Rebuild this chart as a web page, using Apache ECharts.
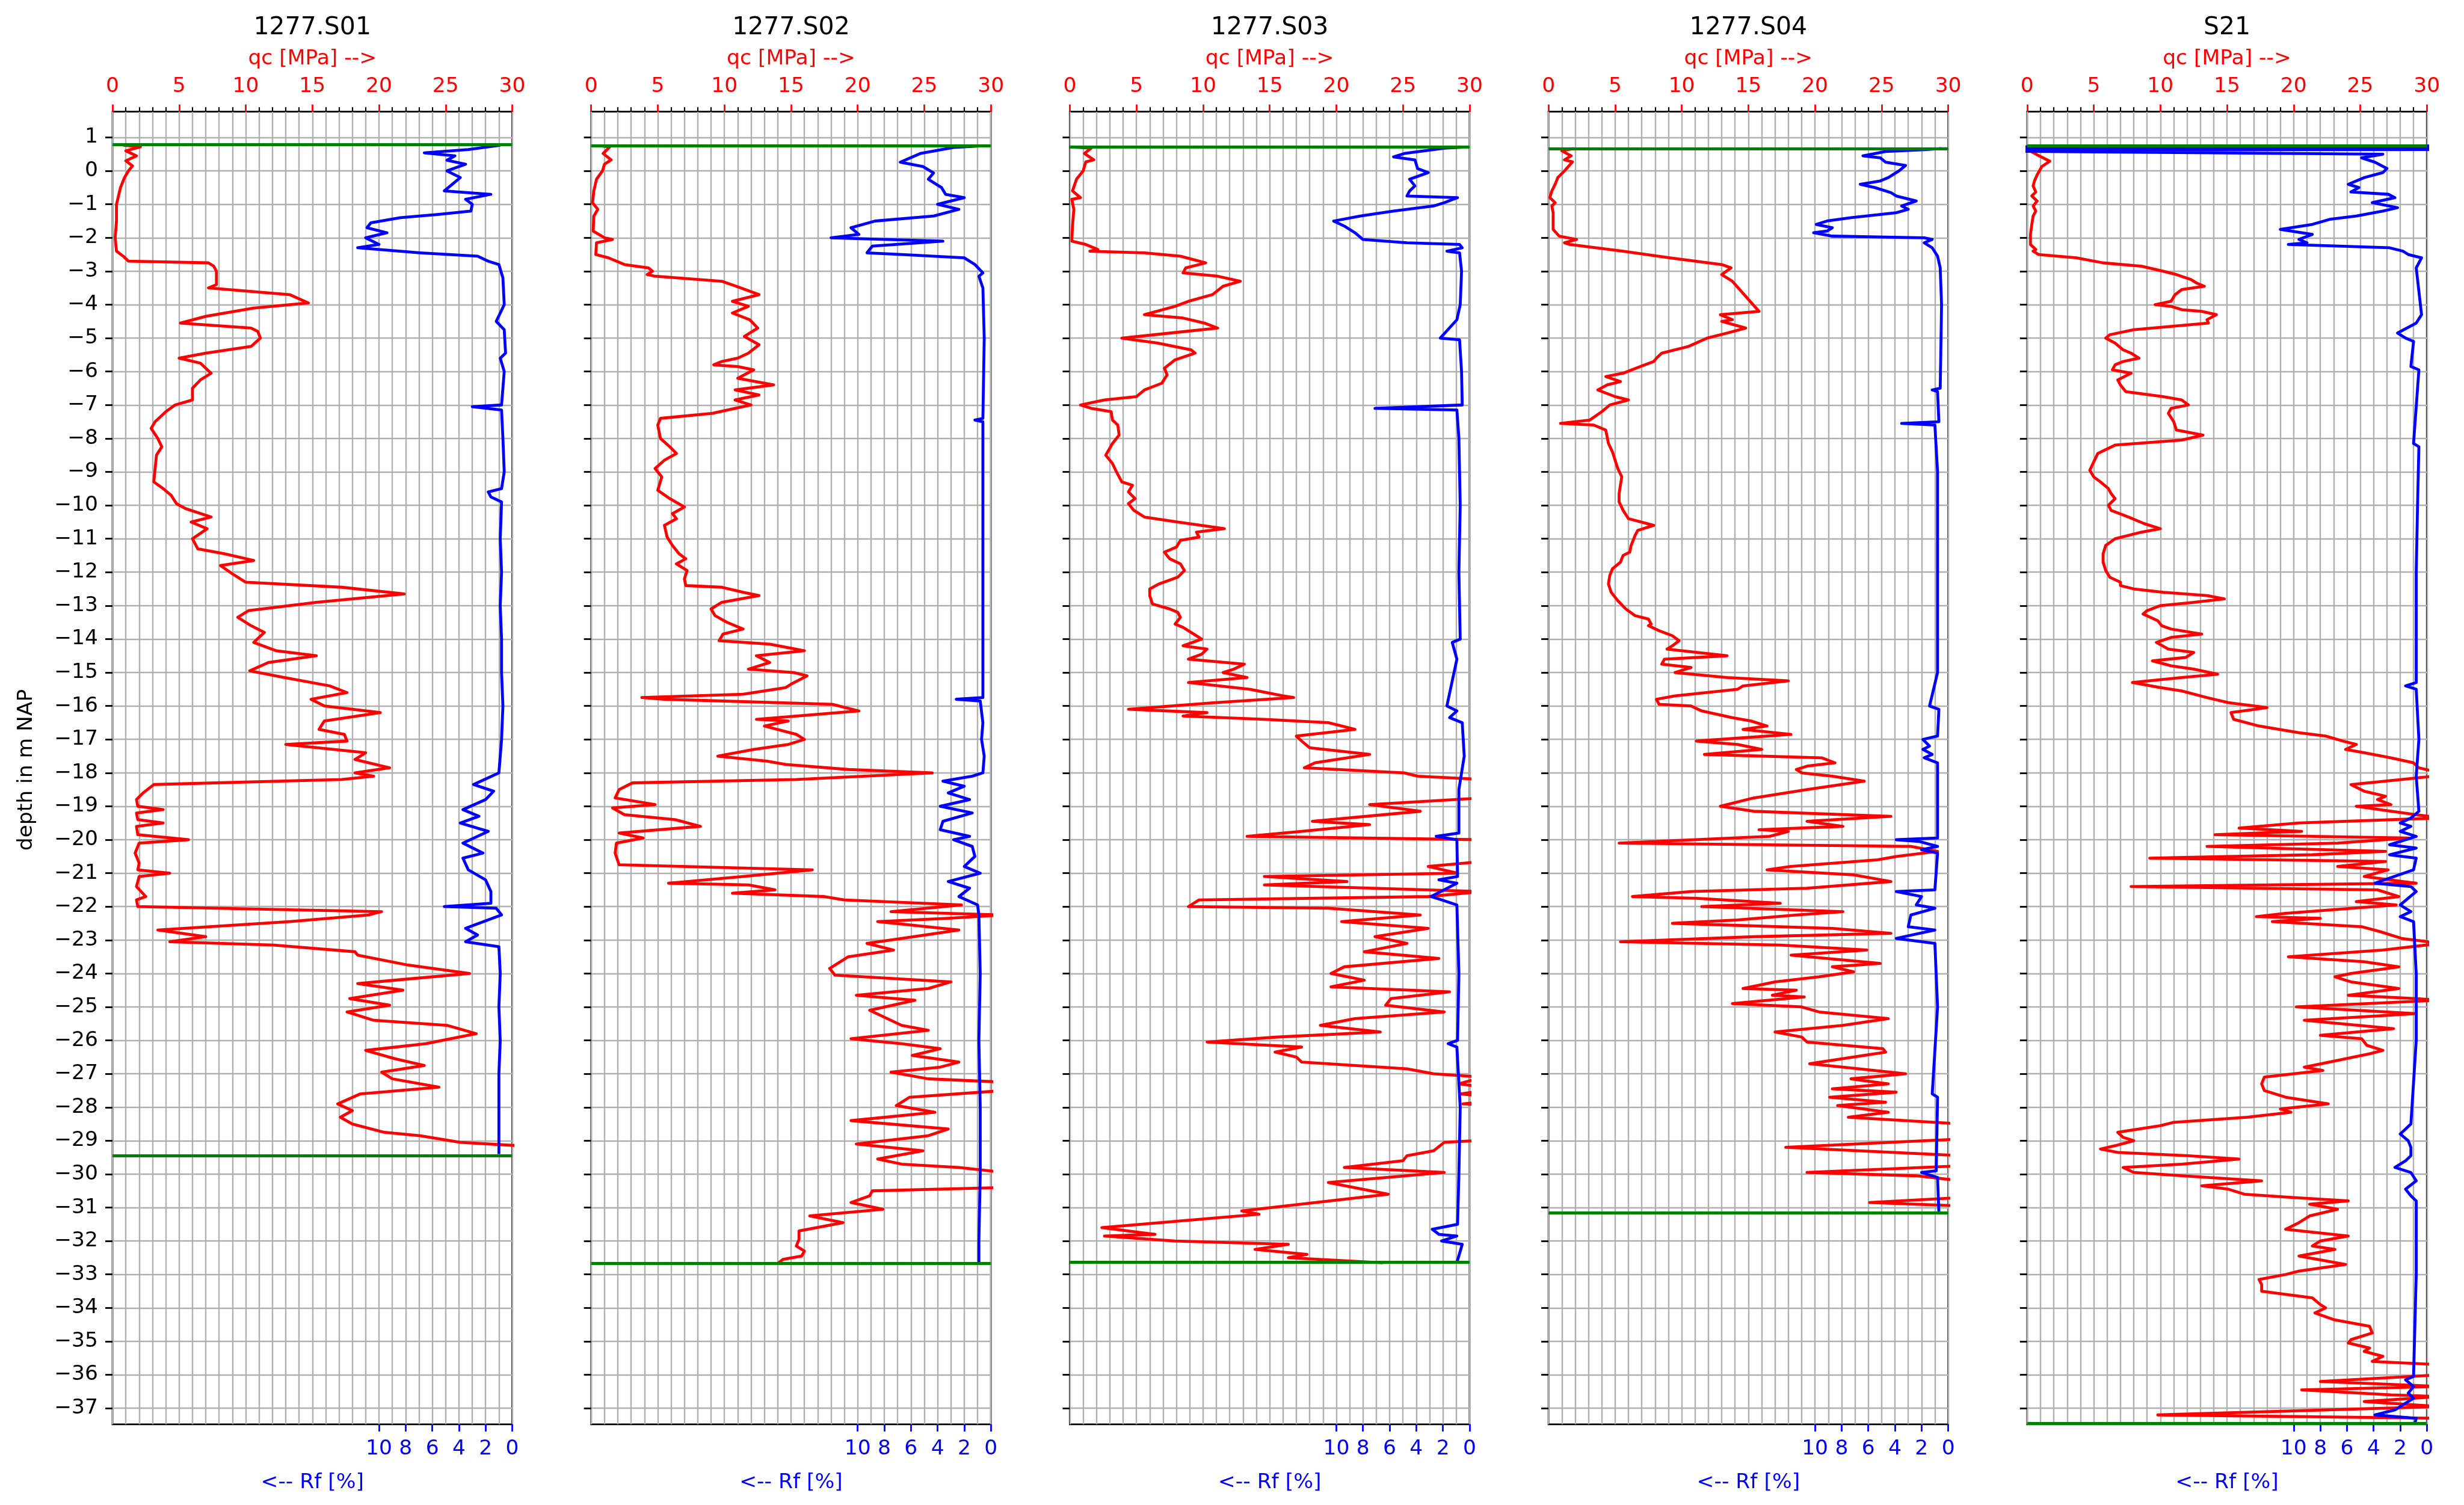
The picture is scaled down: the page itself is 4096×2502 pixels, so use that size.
<!DOCTYPE html>
<html><head><meta charset="utf-8">
<script src="https://cdn.jsdelivr.net/npm/echarts@6/dist/echarts.min.js"></script>
<style>html,body{margin:0;padding:0;background:#fff}#c{width:4096px;height:2502px}</style>
</head><body><div id="c"></div>
<script>
const titles = ['1277.S01', '1277.S02', '1277.S03', '1277.S04', 'S21'];
const groundLevel = [0.78, 0.75, 0.71, 0.67, 0.75];
const endDepth = [-29.44, -32.67, -32.64, -31.16, -37.45];
const qcTicks = [0, 5, 10, 15, 20, 25, 30];
const rfTicks = [0, 2, 4, 6, 8, 10];
const depthTicks = [1, 0, -1, -2, -3, -4, -5, -6, -7, -8, -9, -10, -11, -12, -13, -14, -15, -16, -17, -18, -19, -20, -21, -22, -23, -24, -25, -26, -27, -28, -29, -30, -31, -32, -33, -34, -35, -36, -37];

// [depth (m NAP), qc (MPa)]
const S01_qc = [[0.77,0.8],[0.72,2.1],[0.6,1.0],[0.45,1.8],[0.3,1.0],[0.15,1.5],[0.0,1.2],[-0.2,0.9],[-0.5,0.6],[-1.0,0.3],[-1.5,0.3],[-2.0,0.2],[-2.4,0.3],[-2.55,0.8],[-2.7,1.2],[-2.75,7.2],[-2.85,7.6],[-3.0,7.8],[-3.4,7.8],[-3.5,7.2],[-3.7,13.3],[-3.95,14.7],[-4.1,10.6],[-4.35,7.0],[-4.55,5.1],[-4.7,10.4],[-4.8,10.9],[-5.0,11.1],[-5.25,10.4],[-5.45,7.0],[-5.6,5.0],[-5.75,6.6],[-6.05,7.4],[-6.25,6.6],[-6.5,6.0],[-6.85,6.0],[-7.0,4.7],[-7.2,4.0],[-7.5,3.2],[-7.7,2.9],[-8.0,3.4],[-8.25,3.7],[-8.5,3.3],[-8.9,3.2],[-9.3,3.1],[-9.5,3.8],[-9.7,4.4],[-9.95,4.8],[-10.1,5.5],[-10.35,7.4],[-10.5,5.9],[-10.7,7.1],[-11.0,6.0],[-11.3,6.4],[-11.45,8.4],[-11.65,10.6],[-11.8,8.1],[-12.05,9.0],[-12.3,10.0],[-12.45,17.2],[-12.65,21.9],[-12.9,15.3],[-13.15,10.2],[-13.35,9.4],[-13.6,10.4],[-13.8,11.4],[-14.1,10.6],[-14.35,12.3],[-14.5,15.3],[-14.7,11.7],[-14.95,10.3],[-15.15,12.9],[-15.4,16.3],[-15.6,17.6],[-15.8,14.9],[-16.0,15.9],[-16.2,20.1],[-16.45,15.9],[-16.7,15.5],[-16.85,17.4],[-17.05,17.6],[-17.15,13.0],[-17.4,19.0],[-17.6,18.2],[-17.85,20.8],[-18.0,18.2],[-18.1,19.6],[-18.2,17.2],[-18.35,3.1],[-18.6,2.3],[-18.8,1.8],[-19.0,1.9],[-19.1,3.8],[-19.2,1.8],[-19.4,1.9],[-19.5,3.8],[-19.6,1.8],[-19.85,1.9],[-20.0,5.7],[-20.1,2.0],[-20.4,1.7],[-20.7,2.0],[-20.9,1.9],[-21.0,4.3],[-21.1,2.0],[-21.4,1.8],[-21.7,2.5],[-21.8,1.8],[-22.0,1.9],[-22.15,20.2],[-22.25,19.2],[-22.45,13.3],[-22.7,3.4],[-22.9,7.0],[-23.05,4.3],[-23.15,12.1],[-23.35,18.2],[-23.45,18.4],[-23.75,22.2],[-24.0,26.8],[-24.2,21.2],[-24.3,18.4],[-24.5,21.8],[-24.75,17.8],[-24.95,20.8],[-25.15,17.6],[-25.4,19.6],[-25.55,25.1],[-25.8,27.3],[-26.1,23.5],[-26.3,19.0],[-26.55,21.2],[-26.75,23.4],[-26.95,20.2],[-27.15,21.0],[-27.4,24.5],[-27.6,18.6],[-27.9,16.9],[-28.1,18.0],[-28.3,17.1],[-28.5,18.0],[-28.75,20.4],[-28.85,23.1],[-29.05,26.1],[-29.15,30.5],[-29.2,31]];
// [depth (m NAP), Rf (%)]
const S01_rf = [[0.77,0.9],[0.64,3.3],[0.54,6.6],[0.45,4.3],[0.32,4.9],[0.2,3.5],[0.0,4.9],[-0.2,3.9],[-0.4,4.5],[-0.6,5.1],[-0.7,1.6],[-0.85,3.5],[-1.0,3.0],[-1.2,3.1],[-1.3,5.5],[-1.4,8.4],[-1.55,10.6],[-1.7,10.9],[-1.85,9.4],[-2.0,11.0],[-2.2,10.0],[-2.3,11.6],[-2.45,6.9],[-2.55,2.6],[-2.7,1.8],[-2.8,1.0],[-3.2,0.7],[-4.0,0.6],[-4.5,1.2],[-4.75,0.6],[-5.45,0.5],[-5.6,0.9],[-6.0,0.6],[-7.0,0.8],[-7.05,3.0],[-7.15,0.8],[-8.0,0.7],[-9.0,0.6],[-9.5,0.8],[-9.6,1.8],[-9.75,1.6],[-9.9,0.8],[-11,0.9],[-12,0.8],[-13,0.9],[-14,0.8],[-15,0.8],[-16,0.7],[-17,0.8],[-18,1.0],[-18.35,2.9],[-18.55,1.4],[-18.8,2.0],[-19.1,3.7],[-19.3,2.5],[-19.5,3.9],[-19.75,1.8],[-20.1,3.7],[-20.4,2.2],[-20.55,3.7],[-20.9,3.3],[-21.2,2.0],[-21.55,1.6],[-21.9,1.6],[-22.0,5.1],[-22.05,1.2],[-22.25,0.8],[-22.65,3.5],[-22.85,2.6],[-23.05,3.5],[-23.2,1.0],[-24,0.9],[-25,1.0],[-26,0.9],[-27,1.0],[-28,1.0],[-29,1.0],[-29.4,1.0]];

const S02_qc = [[0.75,0.6],[0.72,1.4],[0.52,0.9],[0.33,1.5],[0.2,1.0],[0.0,0.85],[-0.25,0.4],[-0.6,0.2],[-0.95,0.1],[-1.15,0.5],[-1.35,0.2],[-1.8,0.15],[-2.0,1.0],[-2.05,1.6],[-2.15,0.4],[-2.5,0.35],[-2.6,1.3],[-2.8,2.5],[-2.9,4.3],[-3.0,4.6],[-3.1,4.2],[-3.15,4.8],[-3.3,9.8],[-3.45,10.9],[-3.7,12.6],[-3.9,10.6],[-4.05,11.8],[-4.25,10.6],[-4.45,11.9],[-4.7,12.5],[-4.95,11.5],[-5.2,12.6],[-5.45,11.8],[-5.6,11.0],[-5.7,9.8],[-5.8,9.2],[-5.85,11.0],[-5.95,12.2],[-6.2,11.0],[-6.4,13.7],[-6.55,10.8],[-6.7,12.6],[-6.85,10.8],[-7.0,12.0],[-7.1,10.8],[-7.25,9.1],[-7.4,5.2],[-7.6,5.0],[-8.0,5.2],[-8.25,5.9],[-8.45,6.4],[-8.65,5.5],[-8.9,4.8],[-9.15,5.3],[-9.55,5.0],[-9.8,5.9],[-10.05,7.0],[-10.25,6.1],[-10.4,6.4],[-10.6,5.5],[-10.95,5.7],[-11.2,6.1],[-11.45,6.6],[-11.6,7.1],[-11.75,6.4],[-11.95,7.2],[-12.2,7.0],[-12.4,7.1],[-12.45,9.8],[-12.6,11.4],[-12.7,12.6],[-12.9,9.8],[-13.1,9.0],[-13.3,9.3],[-13.5,10.2],[-13.7,11.4],[-13.85,9.9],[-14.05,9.6],[-14.15,13.4],[-14.35,16.0],[-14.5,12.4],[-14.7,13.4],[-14.9,11.8],[-15.0,15.2],[-15.1,16.2],[-15.35,15.0],[-15.45,14.6],[-15.65,11.4],[-15.75,3.8],[-15.8,5.5],[-15.95,18.1],[-16.15,20.1],[-16.4,12.4],[-16.45,14.8],[-16.6,13.0],[-16.85,15.4],[-17.0,16.0],[-17.15,14.8],[-17.3,12.2],[-17.5,9.5],[-17.65,13.2],[-17.75,14.6],[-17.9,19.3],[-18.0,25.6],[-18.2,15.4],[-18.3,3.1],[-18.5,2.1],[-18.75,1.8],[-18.95,4.8],[-19.05,1.6],[-19.25,2.5],[-19.4,6.3],[-19.6,8.2],[-19.8,2.1],[-19.95,3.9],[-20.1,1.9],[-20.4,1.8],[-20.75,2.1],[-20.9,16.6],[-21.1,11.4],[-21.3,5.8],[-21.35,11.8],[-21.5,13.8],[-21.6,10.6],[-21.7,17.5],[-21.8,19.0],[-21.95,27.8],[-22.15,22.5],[-22.25,31],[-22.35,26.8],[-22.45,21.5],[-22.7,27.6],[-22.95,23.3],[-23.1,20.7],[-23.3,22.7],[-23.5,19.3],[-23.85,17.9],[-24.05,18.3],[-24.25,27.0],[-24.45,25.3],[-24.65,19.9],[-24.8,24.3],[-25.1,20.9],[-25.25,21.7],[-25.55,23.3],[-25.7,25.3],[-25.95,19.5],[-26.1,23.3],[-26.25,26.2],[-26.45,24.1],[-26.65,27.6],[-26.8,26.2],[-26.95,22.5],[-27.15,25.3],[-27.25,31],[-27.5,31],[-27.7,23.9],[-27.95,22.9],[-28.15,25.8],[-28.4,19.5],[-28.65,26.8],[-28.85,25.3],[-29.1,19.9],[-29.3,24.9],[-29.55,21.5],[-29.7,23.3],[-29.8,27.6],[-29.95,31],[-30.4,31],[-30.5,21.1],[-30.65,20.9],[-30.85,19.5],[-31.05,21.9],[-31.25,16.4],[-31.45,18.9],[-31.7,15.6],[-31.95,15.6],[-32.15,15.4],[-32.3,16.0],[-32.45,15.8],[-32.55,14.4],[-32.67,14.0]];
const S02_rf = [[0.75,0.6],[0.7,2.8],[0.52,5.3],[0.26,6.8],[0.13,5.1],[-0.06,4.3],[-0.25,4.7],[-0.5,3.7],[-0.7,3.4],[-0.8,2.0],[-1.0,4.0],[-1.15,2.4],[-1.35,4.3],[-1.5,8.7],[-1.7,10.5],[-1.9,9.9],[-2.0,12.0],[-2.1,3.6],[-2.25,8.9],[-2.45,9.3],[-2.5,6.7],[-2.6,2.0],[-2.8,1.2],[-3.05,0.6],[-3.15,0.9],[-3.5,0.6],[-5,0.5],[-7.4,0.6],[-7.45,1.2],[-7.5,0.6],[-10,0.6],[-13,0.6],[-15.75,0.6],[-15.8,2.6],[-15.85,0.8],[-16.5,0.6],[-17,0.7],[-17.5,0.5],[-18.0,0.6],[-18.1,1.4],[-18.25,3.6],[-18.4,2.0],[-18.6,3.2],[-18.8,1.6],[-19.0,3.8],[-19.2,1.4],[-19.45,3.6],[-19.7,3.8],[-19.9,1.6],[-20.0,2.8],[-20.2,1.4],[-20.5,1.2],[-20.8,2.0],[-21.0,0.8],[-21.25,3.2],[-21.45,1.6],[-21.7,2.4],[-21.95,1.0],[-22.25,0.9],[-24,0.8],[-26,0.9],[-28,0.8],[-30,0.8],[-32,0.9],[-32.67,0.9]];

const S03_qc = [[0.71,0.25],[0.68,1.6],[0.52,1.1],[0.33,1.8],[0.27,1.2],[0.0,1.0],[-0.25,0.5],[-0.6,0.2],[-0.8,0.8],[-0.85,0.15],[-1.15,0.3],[-1.65,0.2],[-2.1,0.15],[-2.2,1.2],[-2.35,2.1],[-2.4,1.5],[-2.45,5.6],[-2.55,8.3],[-2.75,10.2],[-2.9,8.7],[-3.05,8.5],[-3.15,11.1],[-3.3,12.8],[-3.45,11.5],[-3.7,10.7],[-3.9,8.9],[-4.05,7.9],[-4.3,5.6],[-4.4,8.5],[-4.55,10.1],[-4.7,11.1],[-4.85,7.5],[-5.0,3.9],[-5.15,6.6],[-5.35,9.1],[-5.45,9.4],[-5.65,7.9],[-5.9,7.1],[-6.1,7.3],[-6.35,6.9],[-6.55,5.6],[-6.75,5.0],[-6.85,2.6],[-7.0,0.8],[-7.1,1.6],[-7.2,3.1],[-7.45,3.2],[-7.6,3.6],[-7.9,3.7],[-8.15,3.2],[-8.5,2.7],[-8.75,3.2],[-9.0,3.5],[-9.3,3.9],[-9.4,4.7],[-9.6,4.4],[-9.8,4.9],[-9.95,4.4],[-10.15,4.8],[-10.35,5.6],[-10.5,8.1],[-10.7,11.6],[-10.8,9.5],[-10.95,9.7],[-11.05,8.3],[-11.25,8.0],[-11.4,7.1],[-11.6,7.5],[-11.75,8.3],[-11.95,8.6],[-12.15,8.1],[-12.35,6.7],[-12.5,6.0],[-12.7,6.0],[-12.95,6.2],[-13.1,7.5],[-13.2,8.1],[-13.35,8.3],[-13.55,7.9],[-13.65,8.5],[-13.85,9.3],[-14.0,9.9],[-14.2,8.5],[-14.3,10.3],[-14.45,9.9],[-14.6,8.9],[-14.75,13.1],[-14.9,12.3],[-15.0,11.5],[-15.15,13.3],[-15.3,8.9],[-15.5,13.5],[-15.7,16.0],[-15.75,16.8],[-15.9,10.9],[-16.1,4.4],[-16.2,10.3],[-16.3,8.5],[-16.4,14.6],[-16.5,19.4],[-16.7,21.4],[-16.9,17.0],[-17.05,17.4],[-17.25,18.0],[-17.45,22.5],[-17.7,18.4],[-17.85,17.6],[-18.0,25.1],[-18.1,26.1],[-18.2,31],[-18.75,31],[-18.95,22.5],[-19.15,26.3],[-19.45,18.2],[-19.55,22.5],[-19.75,17.4],[-19.9,13.3],[-20.0,31],[-20.65,31],[-20.8,26.9],[-21.0,29.1],[-21.1,14.6],[-21.25,20.8],[-21.35,14.6],[-21.55,31],[-21.7,26.9],[-21.8,9.7],[-22.0,8.9],[-22.05,19.4],[-22.25,26.3],[-22.45,20.4],[-22.65,26.9],[-22.9,22.9],[-23.1,25.3],[-23.35,22.1],[-23.55,27.7],[-23.8,20.6],[-24.0,19.6],[-24.2,22.1],[-24.4,19.6],[-24.55,28.5],[-24.75,24.1],[-24.95,23.7],[-25.15,28.1],[-25.35,21.4],[-25.55,18.8],[-25.75,23.3],[-25.9,15.6],[-26.05,10.3],[-26.2,17.4],[-26.35,15.4],[-26.5,17.0],[-26.65,17.4],[-26.85,25.3],[-27.0,27.3],[-27.1,31],[-27.3,29.2],[-27.45,32],[-27.6,29.3],[-27.75,33],[-27.9,29.5],[-28.0,35],[-28.9,35],[-29.05,28.1],[-29.3,27.3],[-29.45,25.3],[-29.6,25.0],[-29.8,20.6],[-29.95,28.1],[-30.25,19.4],[-30.6,23.9],[-31.1,12.9],[-31.2,14.2],[-31.6,2.4],[-31.8,6.4],[-31.85,2.6],[-32.0,7.9],[-32.1,16.4],[-32.25,13.9],[-32.4,17.8],[-32.5,16.4],[-32.65,23.5]];
const S03_rf = [[0.71,0.45],[0.68,1.9],[0.52,4.9],[0.42,5.7],[0.33,4.1],[0.07,3.9],[-0.05,3.1],[-0.25,4.5],[-0.45,4.1],[-0.6,4.5],[-0.75,4.7],[-0.8,0.9],[-0.95,1.9],[-1.05,2.7],[-1.2,5.7],[-1.35,8.2],[-1.5,10.2],[-1.65,9.4],[-1.85,8.6],[-2.05,8.0],[-2.15,4.7],[-2.2,0.75],[-2.3,0.55],[-2.4,1.7],[-2.45,0.75],[-3,0.6],[-4,0.7],[-4.45,0.95],[-5.0,2.2],[-5.05,0.75],[-6,0.6],[-7.0,0.55],[-7.1,7.1],[-7.15,0.95],[-8,0.8],[-10,0.7],[-12,0.8],[-14.0,0.7],[-14.1,1.3],[-14.6,0.95],[-16.0,1.7],[-16.15,0.95],[-16.35,1.5],[-16.5,0.55],[-17.5,0.4],[-18.5,0.8],[-19.8,0.8],[-19.9,2.5],[-20.0,0.95],[-21.1,0.9],[-21.2,2.3],[-21.3,0.95],[-21.7,2.9],[-21.8,2.1],[-21.95,0.95],[-24,0.8],[-26.0,0.9],[-26.1,1.6],[-26.2,0.95],[-28,0.7],[-30,0.8],[-31.5,0.9],[-31.65,2.8],[-31.8,2.3],[-31.85,0.95],[-32.0,2.1],[-32.1,0.55],[-32.64,0.95]];

const S04_qc = [[0.67,1.9],[0.6,1.0],[0.45,1.7],[0.33,1.2],[0.27,1.8],[0.0,1.2],[-0.2,0.7],[-0.4,0.5],[-0.6,0.25],[-0.8,0.1],[-0.95,0.5],[-1.05,0.25],[-1.25,0.35],[-1.75,0.35],[-1.95,0.8],[-2.05,2.1],[-2.15,1.2],[-2.2,1.6],[-2.4,5.6],[-2.6,9.1],[-2.8,13.0],[-2.9,13.7],[-3.1,13.0],[-3.3,13.8],[-3.75,14.8],[-4.2,15.8],[-4.3,12.9],[-4.45,13.8],[-4.5,13.0],[-4.7,14.8],[-4.85,13.4],[-5.0,11.9],[-5.25,10.5],[-5.45,8.5],[-5.6,8.1],[-5.7,7.9],[-5.85,6.9],[-6.05,5.6],[-6.15,4.3],[-6.3,5.4],[-6.4,4.4],[-6.55,3.7],[-6.75,5.0],[-6.85,6.0],[-7.0,4.6],[-7.2,4.0],[-7.45,3.1],[-7.55,0.9],[-7.6,3.4],[-7.75,4.3],[-8.15,4.5],[-8.4,4.8],[-8.65,5.0],[-8.9,5.2],[-9.15,5.5],[-9.4,5.4],[-9.65,5.3],[-9.9,5.3],[-10.15,5.6],[-10.4,6.0],[-10.6,7.9],[-10.75,6.7],[-10.9,6.5],[-11.2,6.2],[-11.4,6.1],[-11.5,5.6],[-11.7,5.4],[-11.9,4.8],[-12.1,4.6],[-12.35,4.5],[-12.6,4.7],[-12.85,5.2],[-13.1,5.8],[-13.3,6.5],[-13.4,7.5],[-13.55,7.7],[-13.6,7.5],[-13.75,8.3],[-13.9,9.3],[-14.05,9.8],[-14.2,9.3],[-14.3,8.9],[-14.5,13.4],[-14.6,8.7],[-14.75,8.5],[-14.85,10.7],[-15.0,9.5],[-15.15,13.4],[-15.25,18.0],[-15.4,14.6],[-15.5,14.2],[-15.7,9.5],[-15.8,8.1],[-15.95,8.3],[-16.0,10.7],[-16.15,11.5],[-16.35,13.8],[-16.45,15.2],[-16.6,16.4],[-16.7,14.6],[-16.85,18.2],[-17.05,11.1],[-17.15,14.2],[-17.3,16.0],[-17.45,11.7],[-17.55,20.5],[-17.7,21.5],[-17.8,19.4],[-17.9,18.6],[-18.0,19.0],[-18.1,21.3],[-18.25,23.7],[-18.5,19.4],[-18.75,15.4],[-19.0,12.9],[-19.15,15.4],[-19.3,25.7],[-19.45,19.4],[-19.6,22.1],[-19.7,15.8],[-19.75,18.0],[-19.9,16.6],[-20.1,5.3],[-20.2,27.2],[-20.35,29.2],[-20.5,26.1],[-20.6,24.7],[-20.8,18.2],[-20.9,16.4],[-21.05,22.9],[-21.25,25.7],[-21.45,19.4],[-21.55,10.7],[-21.7,6.3],[-21.75,11.1],[-21.9,17.4],[-22.0,11.5],[-22.15,22.1],[-22.25,18.6],[-22.4,14.2],[-22.5,9.3],[-22.65,21.3],[-22.8,25.7],[-22.9,15.4],[-23.05,5.4],[-23.15,17.4],[-23.3,23.9],[-23.45,18.2],[-23.7,24.9],[-23.8,21.3],[-23.95,22.9],[-24.1,20.3],[-24.25,17.0],[-24.45,14.6],[-24.5,18.6],[-24.65,16.8],[-24.7,19.2],[-24.9,13.8],[-25.0,19.0],[-25.15,20.3],[-25.35,25.5],[-25.55,22.1],[-25.75,17.0],[-25.9,19.0],[-26.05,19.4],[-26.25,25.1],[-26.35,25.3],[-26.7,19.6],[-26.85,23.3],[-27.0,26.8],[-27.15,22.7],[-27.3,25.5],[-27.45,21.3],[-27.55,26.1],[-27.7,21.1],[-27.85,25.3],[-27.95,21.7],[-28.15,25.5],[-28.3,22.5],[-28.5,31],[-28.95,31],[-29.2,17.8],[-29.3,23.3],[-29.45,31],[-29.75,31],[-29.95,19.4],[-30.05,27.6],[-30.2,31],[-30.7,31],[-30.85,24.1],[-30.95,31],[-31.16,31]];
const S04_rf = [[0.67,0.5],[0.64,1.6],[0.58,4.7],[0.45,6.4],[0.39,5.1],[0.26,4.7],[0.16,3.2],[0.0,3.7],[-0.2,4.5],[-0.3,5.1],[-0.4,6.6],[-0.5,5.5],[-0.65,4.3],[-0.75,3.9],[-0.9,2.4],[-1.05,3.5],[-1.15,3.0],[-1.25,3.9],[-1.4,7.3],[-1.5,9.1],[-1.6,9.9],[-1.7,8.7],[-1.8,9.1],[-1.85,10.1],[-1.95,8.7],[-2.0,1.8],[-2.05,1.2],[-2.15,1.8],[-2.3,1.2],[-2.55,0.8],[-2.9,0.6],[-4,0.5],[-6.5,0.6],[-6.55,1.2],[-6.6,0.8],[-7.5,0.7],[-7.55,3.5],[-7.6,1.0],[-9,0.8],[-12,0.8],[-15,0.8],[-16.0,1.4],[-16.1,0.7],[-16.9,0.8],[-17.0,1.9],[-17.2,1.4],[-17.3,1.9],[-17.45,1.2],[-17.55,1.8],[-17.7,0.8],[-18.5,0.8],[-19.95,0.8],[-20.0,3.9],[-20.05,2.2],[-20.2,0.8],[-20.3,2.0],[-20.4,0.8],[-21.5,1.0],[-21.55,3.9],[-21.7,2.0],[-21.95,2.4],[-22.05,1.0],[-22.25,2.8],[-22.6,3.0],[-22.7,1.0],[-22.95,3.9],[-23.1,1.0],[-25,0.8],[-27.6,1.2],[-27.7,0.8],[-29.9,0.9],[-29.95,2.0],[-30.05,1.2],[-30.1,0.8],[-31.16,0.7]];

const S21_qc = [[0.75,0.2],[0.74,1.3],[0.6,0.2],[0.45,0.9],[0.29,1.7],[0.13,1.1],[-0.12,0.75],[-0.3,0.55],[-0.45,0.45],[-0.63,0.65],[-0.75,0.35],[-0.9,0.75],[-1.05,0.45],[-1.2,0.65],[-1.35,0.45],[-1.6,0.35],[-1.9,0.25],[-2.2,0.25],[-2.35,0.65],[-2.4,0.45],[-2.5,0.85],[-2.6,3.7],[-2.75,5.7],[-2.85,8.6],[-3.0,10.2],[-3.1,11.2],[-3.25,12.3],[-3.35,12.7],[-3.45,13.3],[-3.55,11.6],[-3.7,11.1],[-3.9,10.8],[-4.0,9.6],[-4.05,10.8],[-4.15,11.6],[-4.2,13.1],[-4.3,14.2],[-4.45,13.5],[-4.55,13.6],[-4.65,10.8],[-4.75,8.0],[-4.9,6.2],[-5.0,5.9],[-5.15,6.6],[-5.35,7.2],[-5.45,7.8],[-5.6,8.4],[-5.7,7.2],[-5.8,6.6],[-5.95,6.4],[-6.05,7.8],[-6.25,6.8],[-6.4,7.0],[-6.6,7.4],[-6.75,10.2],[-6.85,11.6],[-7.0,12.1],[-7.1,10.8],[-7.25,10.6],[-7.5,11.0],[-7.75,11.2],[-7.9,13.2],[-8.05,11.6],[-8.2,6.6],[-8.45,5.3],[-8.7,5.0],[-8.95,4.7],[-9.15,5.0],[-9.3,5.5],[-9.5,6.1],[-9.65,6.3],[-9.8,6.6],[-10.0,6.1],[-10.15,6.3],[-10.35,7.6],[-10.55,8.8],[-10.7,10.0],[-10.8,8.6],[-11.0,6.6],[-11.2,5.9],[-11.45,5.7],[-11.7,5.7],[-11.95,5.9],[-12.15,6.2],[-12.3,7.0],[-12.4,7.0],[-12.5,8.0],[-12.6,10.2],[-12.7,13.5],[-12.8,14.8],[-12.9,12.5],[-13.0,10.0],[-13.15,9.0],[-13.25,8.7],[-13.45,9.8],[-13.6,10.1],[-13.7,10.8],[-13.85,13.1],[-13.95,10.8],[-14.1,9.7],[-14.3,10.6],[-14.4,12.5],[-14.55,11.9],[-14.65,9.4],[-14.8,10.8],[-14.9,12.5],[-15.05,14.3],[-15.15,11.6],[-15.3,7.9],[-15.45,10.0],[-15.55,11.6],[-15.75,13.5],[-15.9,15.1],[-16.05,18.0],[-16.2,15.3],[-16.4,15.5],[-16.6,17.4],[-16.8,20.4],[-16.9,22.4],[-17.05,23.7],[-17.15,24.7],[-17.3,23.9],[-17.4,25.3],[-17.55,27.3],[-17.7,29.0],[-17.85,29.4],[-17.95,30.5],[-18.1,30.5],[-18.2,28.1],[-18.35,24.3],[-18.55,25.3],[-18.7,26.9],[-18.8,26.3],[-18.95,27.3],[-19.0,24.7],[-19.15,27.3],[-19.25,29.2],[-19.35,31],[-19.5,20.4],[-19.65,15.9],[-19.75,20.6],[-19.85,14.1],[-19.95,28.6],[-20.1,23.3],[-20.2,13.5],[-20.35,26.9],[-20.45,21.4],[-20.55,9.2],[-20.65,26.9],[-20.8,23.3],[-20.9,27.1],[-21.1,25.3],[-21.3,29.2],[-21.4,7.8],[-21.5,26.3],[-21.7,27.9],[-21.85,24.7],[-21.95,27.7],[-22.2,19.4],[-22.3,17.2],[-22.35,22.0],[-22.45,18.4],[-22.6,25.1],[-22.75,26.5],[-22.95,28.1],[-23.1,31],[-23.3,26.7],[-23.5,19.6],[-23.65,25.3],[-23.8,27.9],[-24.0,24.3],[-24.1,23.1],[-24.25,24.3],[-24.45,27.9],[-24.65,24.1],[-24.75,29.2],[-24.8,31],[-25.0,20.2],[-25.2,29.2],[-25.4,20.8],[-25.65,27.5],[-25.85,22.0],[-25.95,25.1],[-26.15,25.5],[-26.3,26.7],[-26.4,25.7],[-26.6,23.3],[-26.8,20.8],[-26.9,22.2],[-27.1,17.8],[-27.3,17.6],[-27.5,17.8],[-27.7,19.4],[-27.9,22.6],[-28.05,19.0],[-28.15,19.8],[-28.3,16.5],[-28.45,11.0],[-28.55,10.0],[-28.75,6.8],[-28.9,7.2],[-29.0,8.0],[-29.15,6.6],[-29.25,5.5],[-29.35,6.8],[-29.45,12.1],[-29.55,15.9],[-29.7,11.6],[-29.8,7.2],[-29.95,8.0],[-30.05,11.6],[-30.2,17.6],[-30.35,13.1],[-30.45,15.1],[-30.6,16.3],[-30.7,20.0],[-30.8,24.1],[-30.9,21.2],[-31.05,23.3],[-31.25,21.2],[-31.45,20.4],[-31.65,19.4],[-31.85,24.1],[-32.0,22.0],[-32.15,21.4],[-32.25,23.1],[-32.45,20.4],[-32.7,23.9],[-32.9,20.4],[-33.0,19.4],[-33.15,17.4],[-33.3,17.6],[-33.5,17.6],[-33.7,21.4],[-33.9,22.0],[-34.0,22.4],[-34.15,21.6],[-34.35,23.0],[-34.55,25.7],[-34.75,25.9],[-34.95,24.3],[-35.05,24.1],[-35.2,25.7],[-35.3,25.3],[-35.45,26.7],[-35.6,25.9],[-35.7,31],[-36.0,31],[-36.2,22.0],[-36.35,31],[-36.45,20.6],[-36.6,27.3],[-36.65,31],[-36.8,25.3],[-36.95,31],[-37.2,9.8],[-37.3,31],[-37.45,31]];
const S21_rf = [[0.75,0.0],[0.73,-1],[0.715,40],[0.69,-1],[0.665,40],[0.64,-1],[0.615,40],[0.5,3.3],[0.39,4.9],[0.26,3.9],[0.07,3.0],[-0.05,3.3],[-0.2,4.7],[-0.4,5.9],[-0.5,5.1],[-0.63,5.7],[-0.7,2.9],[-0.8,2.4],[-0.95,4.1],[-1.1,2.2],[-1.2,3.3],[-1.35,5.3],[-1.45,7.3],[-1.6,8.6],[-1.75,11.0],[-1.9,8.6],[-2.05,9.6],[-2.15,9.0],[-2.2,10.4],[-2.3,2.8],[-2.4,1.8],[-2.5,1.4],[-2.6,0.4],[-2.9,0.8],[-4.3,0.4],[-4.55,0.8],[-4.85,2.2],[-5.0,1.6],[-5.1,1.0],[-5.85,1.2],[-5.95,0.6],[-8.15,1.0],[-8.25,0.6],[-10,0.7],[-12,0.8],[-15.3,0.8],[-15.4,1.6],[-15.5,0.8],[-17,0.6],[-18.1,0.8],[-19.15,0.6],[-19.35,1.2],[-19.5,2.0],[-19.6,1.2],[-19.75,2.0],[-19.9,0.8],[-20.15,2.8],[-20.25,0.8],[-20.45,2.8],[-20.55,0.8],[-20.9,1.0],[-21.3,3.9],[-21.4,1.2],[-21.55,0.8],[-21.95,2.0],[-22.15,1.2],[-22.3,2.0],[-22.45,1.0],[-24,0.8],[-26,0.8],[-28.5,1.2],[-28.65,1.6],[-28.8,2.0],[-29.0,1.4],[-29.2,1.2],[-29.45,1.2],[-29.6,1.6],[-29.8,2.4],[-29.95,1.2],[-30.2,0.8],[-30.45,1.6],[-30.65,1.2],[-30.8,0.8],[-33,0.8],[-36.05,1.0],[-36.15,1.6],[-36.35,1.0],[-36.55,1.4],[-36.7,1.0],[-37.05,2.4],[-37.2,3.9],[-37.3,0.8],[-37.45,0.9]];

const qcData = [S01_qc, S02_qc, S03_qc, S04_qc, S21_qc];
const rfData = [S01_rf, S02_rf, S03_rf, S04_rf, S21_rf];

// layout (px)
const FONT = '"DejaVu Sans", Verdana, sans-serif';
const L0 = 187, PITCH = 795.7, W = 664.5, TOP = 185.7, H = 2182.1;
const FS = 34.5;
const fmtDepth = v => (v < 0 ? '\u2212' + Math.abs(v) : String(v));

const grid = [], xAxis = [], yAxis = [], series = [], graphic = [];
titles.forEach((t, i) => {
  const left = L0 + i * PITCH;
  grid.push({left: left, top: TOP, width: W, height: H, show: true, borderColor: '#000', borderWidth: 2.8,
             backgroundColor: 'rgba(0,0,0,0)', containLabel: false, outerBoundsMode: 'none'});
  xAxis.push({
    gridIndex: i, type: 'value', position: 'top', min: 0, max: 30, interval: 5,
    axisLine: {show: false, onZero: false},
    axisTick: {show: true, length: 12, lineStyle: {color: '#ff0000', width: 2.8}},
    minorTick: {show: true, splitNumber: 5, length: 7.5, lineStyle: {color: '#000', width: 2.2}},
    splitLine: {show: true, lineStyle: {color: '#b0b0b0', width: 2.4}},
    minorSplitLine: {show: true, lineStyle: {color: '#b0b0b0', width: 2.4}},
    axisLabel: {show: true, customValues: qcTicks, color: '#ff0000', fontSize: FS, fontFamily: FONT, margin: 24,
                showMinLabel: true, showMaxLabel: true, hideOverlap: false}
  });
  xAxis.push({
    gridIndex: i, type: 'value', position: 'bottom', inverse: true, min: 0, max: 30, interval: 2,
    axisLine: {show: false, onZero: false},
    axisTick: {show: true, customValues: rfTicks, length: 12, lineStyle: {color: '#0000ff', width: 2.8}},
    axisLabel: {show: true, customValues: rfTicks, color: '#0000ff', fontSize: FS, fontFamily: FONT, margin: 24,
                showMinLabel: true, showMaxLabel: true, hideOverlap: false},
    splitLine: {show: false}, minorTick: {show: false}
  });
  yAxis.push({
    gridIndex: i, type: 'value', min: -37.48, max: 1.77,
    axisLine: {show: false, onZero: false},
    axisTick: {show: true, customValues: depthTicks, length: 12, lineStyle: {color: '#000', width: 2.8}},
    axisLabel: {show: i === 0, customValues: depthTicks, color: '#000', fontSize: FS, fontFamily: FONT, margin: 24,
                formatter: fmtDepth, hideOverlap: false, showMinLabel: true, showMaxLabel: true},
    splitLine: {show: true, lineStyle: {color: '#b0b0b0', width: 2.4}}
  });
  series.push({
    type: 'line', xAxisIndex: 2 * i, yAxisIndex: i, z: 2,
    data: qcData[i].map(d => [d[1], d[0]]),
    showSymbol: false, symbol: 'none', clip: true, animation: false, silent: true,
    lineStyle: {color: '#ff0000', width: 4.8, join: 'round'},
    markLine: {silent: true, animation: false, symbol: ['none', 'none'], label: {show: false},
               lineStyle: {color: '#008000', width: 4.8, type: 'solid'},
               emphasis: {disabled: true},
               data: [{yAxis: groundLevel[i]}, {yAxis: endDepth[i]}]}
  });
  series.push({
    type: 'line', xAxisIndex: 2 * i + 1, yAxisIndex: i, z: 3,
    data: rfData[i].map(d => [d[1], d[0]]),
    showSymbol: false, symbol: 'none', clip: true, animation: false, silent: true,
    lineStyle: {color: '#0000ff', width: 4.8, join: 'round'}
  });
  const cx = left + W / 2;
  graphic.push({type: 'text', x: cx, y: 46, style: {text: t, fill: '#000', font: '41px ' + FONT, align: 'center', verticalAlign: 'middle'}});
  graphic.push({type: 'text', x: cx, y: 98, style: {text: 'qc [MPa] -->', fill: '#ff0000', font: FS + 'px ' + FONT, align: 'center', verticalAlign: 'middle'}});
  graphic.push({type: 'text', x: cx, y: 2465, style: {text: '<-- Rf [%]', fill: '#0000ff', font: FS + 'px ' + FONT, align: 'center', verticalAlign: 'middle'}});
});
graphic.push({type: 'text', x: 44, y: 1280, rotation: Math.PI / 2,
  style: {text: 'depth in m NAP', fill: '#000', font: FS + 'px ' + FONT, align: 'center', verticalAlign: 'middle'}});

const chart = echarts.init(document.getElementById('c'), null, {renderer: 'canvas', width: 4096, height: 2502});
chart.setOption({
  backgroundColor: '#ffffff',
  animation: false,
  textStyle: {fontFamily: FONT},
  grid: grid, xAxis: xAxis, yAxis: yAxis, series: series, graphic: graphic
});
</script>
</body></html>
